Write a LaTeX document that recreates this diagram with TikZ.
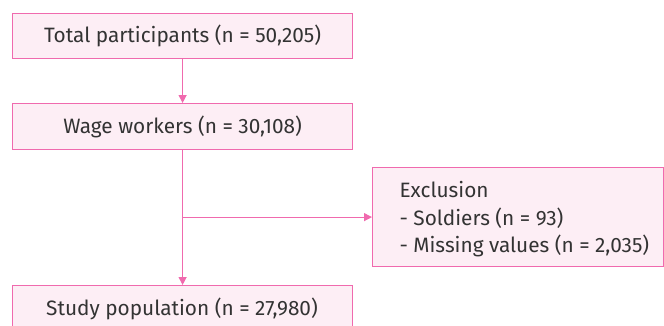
\documentclass[tikz,border=0pt]{standalone}
\usepackage{fontspec}
\setmainfont{Fira Sans}[Scale=1]
\usetikzlibrary{arrows.meta}
\definecolor{pk}{HTML}{F06AAE}
\definecolor{pkfill}{HTML}{FDEEF5}
\tikzset{
  boxst/.style={draw=pk, fill=pkfill, line width=1.2pt, inner sep=0pt, anchor=north west},
  arr/.style={draw=pk, line width=1.2pt, -{Triangle[length=8pt,width=8pt]}},
  lbl/.style={font=\fontsize{20.8}{27.5}\selectfont, text=black!80},
}
\begin{document}
\begin{tikzpicture}[x=1pt,y=-1pt]
\useasboundingbox (0,0) rectangle (664,325);
\clip (0,0) rectangle (664,325);
\node[boxst, minimum width=340pt, minimum height=45pt] (b1) at (12,13) {};
\node[lbl] at (b1.center) {Total participants (n = 50,205)};
\node[boxst, minimum width=340pt, minimum height=46pt] (b2) at (12,103) {};
\node[lbl] at (b2.center) {Wage workers (n = 30,108)};
\node[boxst, minimum width=340pt, minimum height=50pt] (b3) at (12,285) {};
\node[lbl] at (182,309) {Study population (n = 27,980)};
\node[boxst, minimum width=291pt, minimum height=99pt] (ex) at (372,167) {};
\node[lbl, anchor=west, align=left] at (396,219.5) {Exclusion\\- Soldiers (n = 93)\\- Missing values (n = 2,035)};
\coordinate (j) at (b2.south |- ex.west);
\draw[arr] (b1.south) -- (b2.north);
\draw[arr] (b2.south) -- (b3.north);
\draw[arr] (j) -- (ex.west);
\end{tikzpicture}
\end{document}
